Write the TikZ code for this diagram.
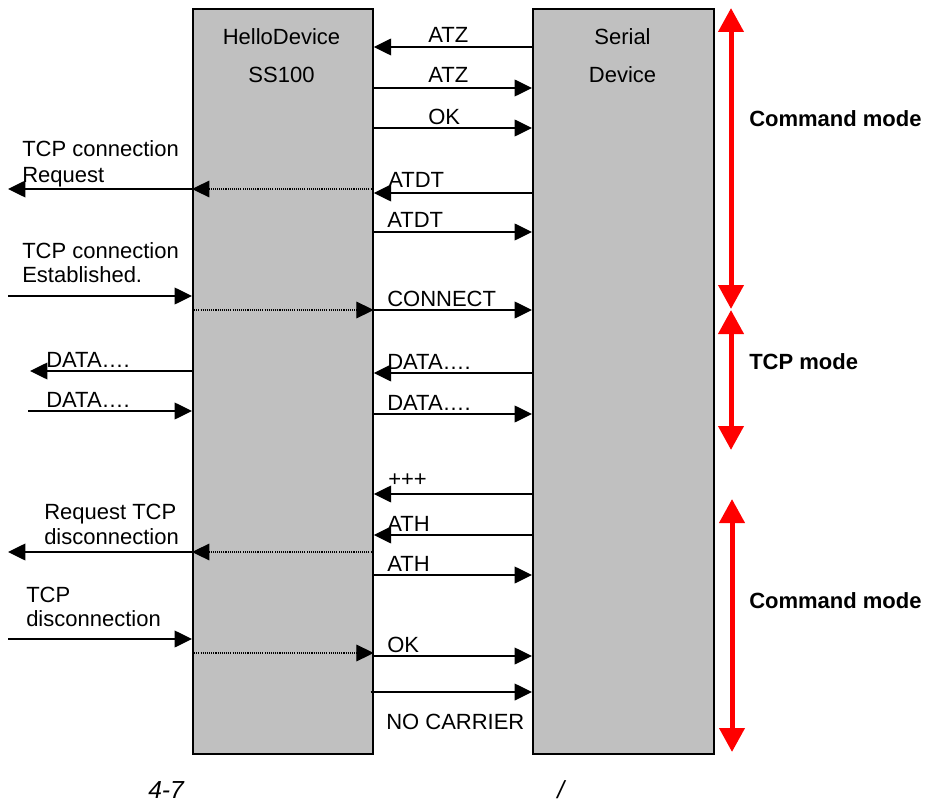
\documentclass[tikz,border=0pt]{standalone}
\usepackage{fontspec}
\setmainfont{Liberation Sans}
\usetikzlibrary{arrows.meta}
\definecolor{boxgray}{HTML}{C0C0C0}
\tikzset{
  devbox/.style={draw=black, fill=boxgray, line width=1.3pt, inner sep=0pt, anchor=north west},
  msg/.style={line width=1.1pt, -{Triangle[length=13pt,width=12.5pt]}},
  dotmsg/.style={line width=0.8pt, dash pattern=on 0.8pt off 0.8pt, -{Triangle[length=13pt,width=12.5pt]}},
  modearrow/.style={red, line width=3.75pt, {Triangle[length=18pt,width=18.5pt]}-{Triangle[length=18pt,width=18.5pt]}},
  lbl/.style={inner sep=0pt, anchor=base west, font=\fontsize{16.5pt}{19pt}\selectfont},
  hdr/.style={inner sep=0pt, anchor=base, font=\fontsize{16.5pt}{19pt}\selectfont},
  modelbl/.style={inner sep=0pt, anchor=base west, font=\fontsize{16.5pt}{19pt}\selectfont\bfseries},
  captxt/.style={inner sep=0pt, anchor=base west, font=\fontsize{18.5pt}{22pt}\selectfont\itshape}
}
\begin{document}
\begin{tikzpicture}[x=0.75pt,y=-0.75pt]
\useasboundingbox (0,0) rectangle (930,805);
% boxes
\node[devbox, minimum width=135pt, minimum height=558.75pt] (L) at (192,8) {};
\node[devbox, minimum width=135.75pt, minimum height=558.75pt] (R) at (532,8) {};
\node[hdr] (lh1) at (281.5,45) {HelloDevice};
\node[hdr] (lh2) at (281.5,83) {SS100};
\node[hdr] (rh1) at (622.5,45) {Serial};
\node[hdr] (rh2) at (622.5,83) {Device};
% outside coordinates
\coordinate (o1) at (8,189);
\coordinate (o2) at (8,296);
\coordinate (o3) at (30,371);
\coordinate (o4) at (28,411);
\coordinate (o5) at (8,552);
\coordinate (o6) at (8,639);
% messages between boxes
\draw[msg] (R.west |- 0,47) -- (L.east |- 0,47);
\draw[msg] (L.east |- 0,88) -- (R.west |- 0,88);
\draw[msg] (L.east |- 0,128) -- (R.west |- 0,128);
\draw[msg] (R.west |- 0,193) -- (L.east |- 0,193);
\draw[msg] (L.east |- 0,232) -- (R.west |- 0,232);
\draw[msg] (L.east |- 0,310) -- (R.west |- 0,310);
\draw[msg] (R.west |- 0,373) -- (L.east |- 0,373);
\draw[msg] (L.east |- 0,414) -- (R.west |- 0,414);
\draw[msg] (R.west |- 0,494) -- (L.east |- 0,494);
\draw[msg] (R.west |- 0,535) -- (L.east |- 0,535);
\draw[msg] (L.east |- 0,575) -- (R.west |- 0,575);
\draw[msg] (L.east |- 0,656) -- (R.west |- 0,656);
\draw[msg] ([xshift=-2.25pt]L.east |- 0,692) -- (R.west |- 0,692);
% dotted relays inside left box
\draw[dotmsg] (L.east |- 0,189) -- (L.west |- 0,189);
\draw[dotmsg] (L.west |- 0,310) -- (L.east |- 0,310);
\draw[dotmsg] (L.east |- 0,552) -- (L.west |- 0,552);
\draw[dotmsg] (L.west |- 0,653) -- (L.east |- 0,653);
% outside arrows
\draw[msg] (L.west |- o1) -- (o1);
\draw[msg] (o2) -- (L.west |- o2);
\draw[msg] (L.west |- o3) -- (o3);
\draw[msg] (o4) -- (L.west |- o4);
\draw[msg] (L.west |- o5) -- (o5);
\draw[msg] (o6) -- (L.west |- o6);
% middle labels
\node[lbl] (m1) at (428,43) {ATZ};
\node[lbl] (m2) at (428,83) {ATZ};
\node[lbl] (m3) at (428,125) {OK};
\node[lbl] (m4) at (388,188) {ATDT};
\node[lbl] (m5) at (387,228) {ATDT};
\node[lbl] (m6) at (387,306) {CONNECT};
\node[lbl] (m7) at (387,369) {DATA….};
\node[lbl] (m8) at (387,410) {DATA….};
\node[lbl] (m9) at (388,486) {+++};
\node[lbl] (m10) at (387,531) {ATH};
\node[lbl] (m11) at (387,571) {ATH};
\node[lbl] (m12) at (387,652) {OK};
\node[lbl] (m13) at (386,729) {NO CARRIER};
% left labels
\node[lbl] (l1a) at (22,157) {TCP connection};
\node[lbl] (l1b) at (22,183) {Request};
\node[lbl] (l2a) at (22,258) {TCP connection};
\node[lbl] (l2b) at (22,282) {Established.};
\node[lbl] (l3) at (46,367) {DATA….};
\node[lbl] (l4) at (46,407) {DATA….};
\node[lbl] (l5a) at (44,519) {Request TCP};
\node[lbl] (l5b) at (44,544) {disconnection};
\node[lbl] (l6a) at (26,602) {TCP};
\node[lbl] (l6b) at (26,626) {disconnection};
% mode arrows
\coordinate (a1) at (731,8);
\coordinate (a2) at (731,309);
\coordinate (b1) at (731,310);
\coordinate (b2) at (731,450);
\coordinate (c1) at (732,499);
\coordinate (c2) at (732,752);
\draw[modearrow] (a1) -- (a2);
\draw[modearrow] (b1) -- (b2);
\draw[modearrow] (c1) -- (c2);
\node[modelbl] (t1) at (749,127) {Command mode};
\node[modelbl] (t2) at (749,369) {TCP mode};
\node[modelbl] (t3) at (749,608) {Command mode};
% caption
\node[captxt] (cap1) at (148,798) {4-7};
\node[captxt] (cap2) at (557,798) {/};
\end{tikzpicture}
\end{document}
